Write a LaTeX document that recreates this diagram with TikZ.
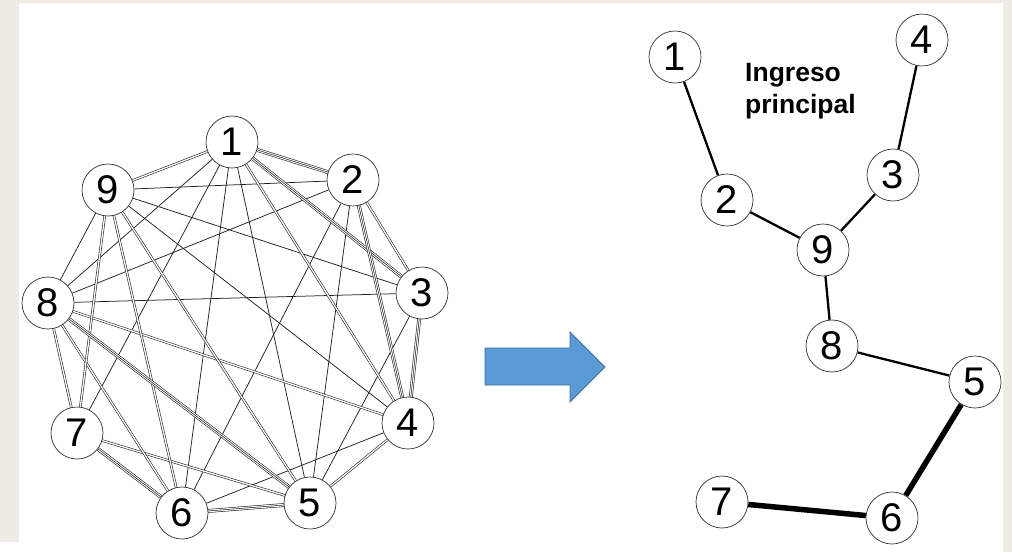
\documentclass[tikz,border=0pt]{standalone}
\usepackage{fontspec}
\setmainfont{Liberation Sans}
\pgfdeclarelayer{bg}
\pgfdeclarelayer{edges}
\pgfsetlayers{bg,edges,main}
\definecolor{frame}{HTML}{EEECE5}
\definecolor{arrowfill}{HTML}{5B9BD5}
\definecolor{arrowline}{HTML}{41719C}
\definecolor{edgegray}{HTML}{222222}
\begin{document}
\begin{tikzpicture}[x=1pt,y=-1pt,
  vtx/.style={circle,draw=black!80,line width=0.7pt,fill=white,minimum size=52pt,inner sep=0pt,
    font=\fontsize{40}{40}\selectfont},
  eone/.style={draw=edgegray,line width=0.75pt},
  etwo/.style={draw=edgegray,line width=0.6pt,double=white,double distance=1.3pt},
  ethree/.style={draw=edgegray,line width=0.6pt,double=white,double distance=2.6pt},
  emid/.style={draw=edgegray,line width=0.55pt},
  tedge/.style={draw=black,line width=2.3pt},
  tthick/.style={draw=black,line width=5.5pt}]
\useasboundingbox (0,0) rectangle (1012,552);
\begin{pgfonlayer}{bg}
  \fill[frame] (0,0) rectangle (1012,552);
  \fill[white] (19,3) rectangle (1003,552);
  \fill[white] (0,542) rectangle (19,552);
\end{pgfonlayer}
% left graph
\node[vtx] (L1) at (232,142) {1};
\node[vtx] (L2) at (353,180) {2};
\node[vtx] (L3) at (422,293) {3};
\node[vtx] (L4) at (408,423) {4};
\node[vtx] (L5) at (310,503) {5};
\node[vtx] (L6) at (182,513) {6};
\node[vtx] (L7) at (77,433) {7};
\node[vtx] (L8) at (48,303) {8};
\node[vtx] (L9) at (108,190) {9};
\begin{pgfonlayer}{edges}
  \foreach \a/\b in {1/5,1/6,1/7,1/8,2/5,2/6,2/8,2/9,3/5,3/8,3/9,4/6,4/9,8/9}
    \draw[eone] (L\a) -- (L\b);
  \foreach \a/\b in {1/4,1/9,2/3,4/5,4/8,5/7,5/9,6/8,6/9,7/8,7/9}
    \draw[etwo] (L\a) -- (L\b);
  \foreach \a/\b in {1/2,1/3,2/4,3/4,5/6,5/8,6/7}
    {\draw[ethree] (L\a) -- (L\b); \draw[emid] (L\a) -- (L\b);}
\end{pgfonlayer}
% arrow
\draw[fill=arrowfill,draw=arrowline,line width=0.8pt,line join=miter]
  (485,348) -- (570,348) -- (570,332) -- (605,367) -- (570,402) -- (570,385) -- (485,385) -- cycle;
% right tree
\node[vtx] (R1) at (675,57) {1};
\node[vtx] (R4) at (922,40) {4};
\node[vtx] (R2) at (727,200) {2};
\node[vtx] (R3) at (893,175) {3};
\node[vtx] (R9) at (823,250) {9};
\node[vtx] (R8) at (832,346) {8};
\node[vtx] (R5) at (975,382) {5};
\node[vtx] (R6) at (892,518) {6};
\node[vtx] (R7) at (722,502) {7};
\begin{pgfonlayer}{edges}
  \draw[tedge] (R1) -- (R2);
  \draw[tedge] (R2) -- (R9);
  \draw[tedge] (R9) -- (R3);
  \draw[tedge] (R3) -- (R4);
  \draw[tedge] (R9) -- (R8);
  \draw[tedge] (R8) -- (R5);
  \draw[tthick] (R5) -- (R6);
  \draw[tthick] (R6) -- (R7);
\end{pgfonlayer}
\node[anchor=north west,inner sep=0pt,align=left,font=\bfseries\fontsize{26.5}{32}\selectfont] (lbl) at (745,63) {Ingreso\\principal};
\end{tikzpicture}
\end{document}
